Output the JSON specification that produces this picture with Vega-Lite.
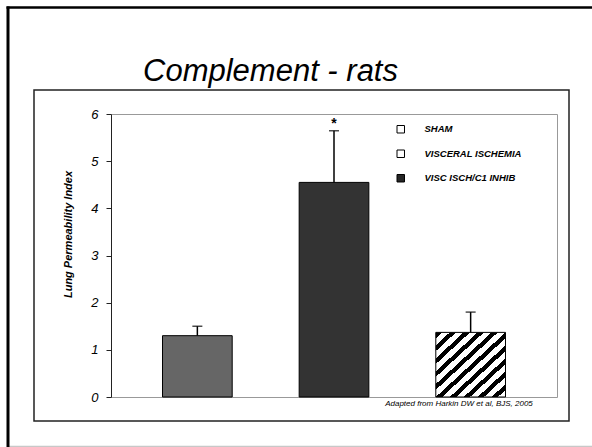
{
  "$schema": "https://vega.github.io/schema/vega-lite/v6.json",
  "width": 535,
  "height": 331,
  "autosize": {"type": "none"},
  "padding": {"left": 34, "top": 90, "right": 23, "bottom": 26},
  "background": "white",
  "config": {
    "view": {"stroke": "#222222", "strokeWidth": 1.5},
    "font": "Liberation Sans",
    "axis": {"grid": false}
  },
  "data": {
    "values": [
      {"group": "SHAM", "mean": 1.30, "upper": 1.50, "sig": ""},
      {"group": "VISCERAL ISCHEMIA", "mean": 4.55, "upper": 5.645, "sig": "*"},
      {"group": "VISC ISCH/C1 INHIB", "mean": 1.37, "upper": 1.80, "sig": ""}
    ]
  },
  "resolve": {
    "scale": {"x": "independent", "y": "independent"},
    "axis": {"x": "independent", "y": "independent"}
  },
  "layer": [
    {
      "resolve": {"axis": {"x": "independent", "y": "independent"}},
      "layer": [
        {
          "mark": {"type": "bar", "stroke": "black", "strokeWidth": 1},
          "encoding": {
            "x": {
              "field": "group", "type": "nominal", "sort": null,
              "scale": {"range": [77, 523], "paddingInner": 0.49, "paddingOuter": 0.377},
              "axis": {
                "orient": "bottom", "offset": -24, "domainColor": "#999999", "domainWidth": 1,
                "ticks": false, "labels": false,
                "title": "Adapted from Harkin DW et al,  BJS, 2005",
                "titleFont": "Liberation Sans", "titleFontSize": 8, "titleFontStyle": "italic", "titleFontWeight": "normal",
                "titleColor": "black", "titleX": 424.5, "titleY": 8, "titleBaseline": "alphabetic"
              }
            },
            "y": {
              "field": "mean", "type": "quantitative",
              "scale": {"domain": [0, 6], "range": [307, 24], "nice": false},
              "axis": {
                "orient": "left", "offset": -77, "values": [0, 1, 2, 3, 4, 5, 6], "format": "d",
                "domainColor": "#222222", "tickColor": "#222222", "tickSize": 5,
                "labelFont": "Liberation Sans", "labelFontSize": 13, "labelFontStyle": "italic", "labelColor": "black", "labelPadding": 8,
                "title": "Lung Permeability Index",
                "titleFont": "Liberation Sans", "titleFontSize": 11, "titleFontStyle": "italic", "titleFontWeight": "bold", "titleColor": "black",
                "titleX": -38, "titleY": 144
              }
            },
            "fill": {
              "field": "group", "type": "nominal", "sort": null,
              "scale": {"range": ["#ffffff", "#ffffff", "#262626"]},
              "condition": [
                {"test": "datum.group === 'SHAM'", "value": "#666666"},
                {"test": "datum.group === 'VISCERAL ISCHEMIA'", "value": "#333333"},
                {
                  "test": "datum.group === 'VISC ISCH/C1 INHIB'",
                  "value": {
                    "gradient": "linear", "x1": 0, "y1": 0, "x2": 1, "y2": 1,
                    "stops": [
                      {"offset": 0, "color": "black"}, {"offset": 0.045, "color": "black"}, {"offset": 0.045, "color": "white"}, {"offset": 0.1, "color": "white"},
                      {"offset": 0.1, "color": "black"}, {"offset": 0.145, "color": "black"}, {"offset": 0.145, "color": "white"}, {"offset": 0.2, "color": "white"},
                      {"offset": 0.2, "color": "black"}, {"offset": 0.245, "color": "black"}, {"offset": 0.245, "color": "white"}, {"offset": 0.3, "color": "white"},
                      {"offset": 0.3, "color": "black"}, {"offset": 0.345, "color": "black"}, {"offset": 0.345, "color": "white"}, {"offset": 0.4, "color": "white"},
                      {"offset": 0.4, "color": "black"}, {"offset": 0.445, "color": "black"}, {"offset": 0.445, "color": "white"}, {"offset": 0.5, "color": "white"},
                      {"offset": 0.5, "color": "black"}, {"offset": 0.545, "color": "black"}, {"offset": 0.545, "color": "white"}, {"offset": 0.6, "color": "white"},
                      {"offset": 0.6, "color": "black"}, {"offset": 0.645, "color": "black"}, {"offset": 0.645, "color": "white"}, {"offset": 0.7, "color": "white"},
                      {"offset": 0.7, "color": "black"}, {"offset": 0.745, "color": "black"}, {"offset": 0.745, "color": "white"}, {"offset": 0.8, "color": "white"},
                      {"offset": 0.8, "color": "black"}, {"offset": 0.845, "color": "black"}, {"offset": 0.845, "color": "white"}, {"offset": 0.9, "color": "white"},
                      {"offset": 0.9, "color": "black"}, {"offset": 0.945, "color": "black"}, {"offset": 0.945, "color": "white"}, {"offset": 1, "color": "white"}
                    ]
                  }
                }
              ],
              "legend": {
                "orient": "none", "legendX": 362, "legendY": 34.5, "title": null, "padding": 0,
                "symbolType": "square", "symbolSize": 56, "symbolStrokeColor": "black", "symbolStrokeWidth": 1, "symbolOpacity": 1,
                "labelFont": "Liberation Sans", "labelFontSize": 9.5, "labelFontStyle": "italic", "labelFontWeight": "bold",
                "labelColor": "black", "labelOffset": 19, "rowPadding": 12.5
              }
            }
          }
        },
        {
          "mark": {"type": "rule", "color": "black", "strokeWidth": 1.5},
          "encoding": {
            "x": {
              "field": "group", "type": "nominal", "sort": null,
              "axis": {"orient": "top", "offset": -24, "domainColor": "#999999", "ticks": false, "labels": false, "title": null}
            },
            "y": {
              "field": "mean", "type": "quantitative",
              "axis": {"orient": "right", "offset": -12, "domainColor": "#999999", "ticks": false, "labels": false, "title": null}
            },
            "y2": {"field": "upper"}
          }
        },
        {
          "mark": {"type": "tick", "color": "black", "size": 10, "thickness": 1.5, "orient": "horizontal"},
          "encoding": {
            "x": {"field": "group", "type": "nominal", "sort": null, "axis": null},
            "y": {"field": "upper", "type": "quantitative", "axis": null}
          }
        },
        {
          "mark": {"type": "text", "fontSize": 14, "fontWeight": "bold", "baseline": "alphabetic", "dy": -3, "color": "black"},
          "encoding": {
            "x": {"field": "group", "type": "nominal", "sort": null, "axis": null},
            "y": {"field": "upper", "type": "quantitative", "axis": null},
            "text": {"field": "sig"}
          }
        }
      ]
    },
    {
      "mark": {"type": "tick", "opacity": 0},
      "encoding": {
        "x": {
          "field": "mean", "type": "quantitative",
          "scale": {"domain": [0, 6], "range": [-28, 560], "nice": false, "zero": false},
          "axis": {
            "orient": "top", "offset": 83, "domainColor": "black", "domainWidth": 2.5,
            "ticks": false, "labels": false,
            "title": "Complement - rats",
            "titleFont": "Liberation Sans", "titleFontSize": 31, "titleFontStyle": "italic", "titleFontWeight": "normal",
            "titleColor": "black", "titleX": 236, "titleY": 73, "titleBaseline": "alphabetic", "titleAlign": "center"
          }
        },
        "y": {
          "field": "mean", "type": "quantitative",
          "scale": {"domain": [0, 6], "range": [358, -84], "nice": false, "zero": false},
          "axis": {
            "orient": "left", "offset": 26.5, "domainColor": "black", "domainWidth": 3,
            "ticks": false, "labels": false, "title": null
          }
        }
      }
    },
    {
      "mark": {"type": "tick", "opacity": 0},
      "encoding": {
        "x": {
          "field": "mean", "type": "quantitative",
          "scale": {"domain": [0, 6], "range": [-26, 560], "nice": false, "zero": false},
          "axis": {
            "orient": "bottom", "offset": 25, "domainColor": "#c8c8c8", "domainWidth": 1.5,
            "ticks": false, "labels": false, "title": null
          }
        }
      }
    }
  ]
}
